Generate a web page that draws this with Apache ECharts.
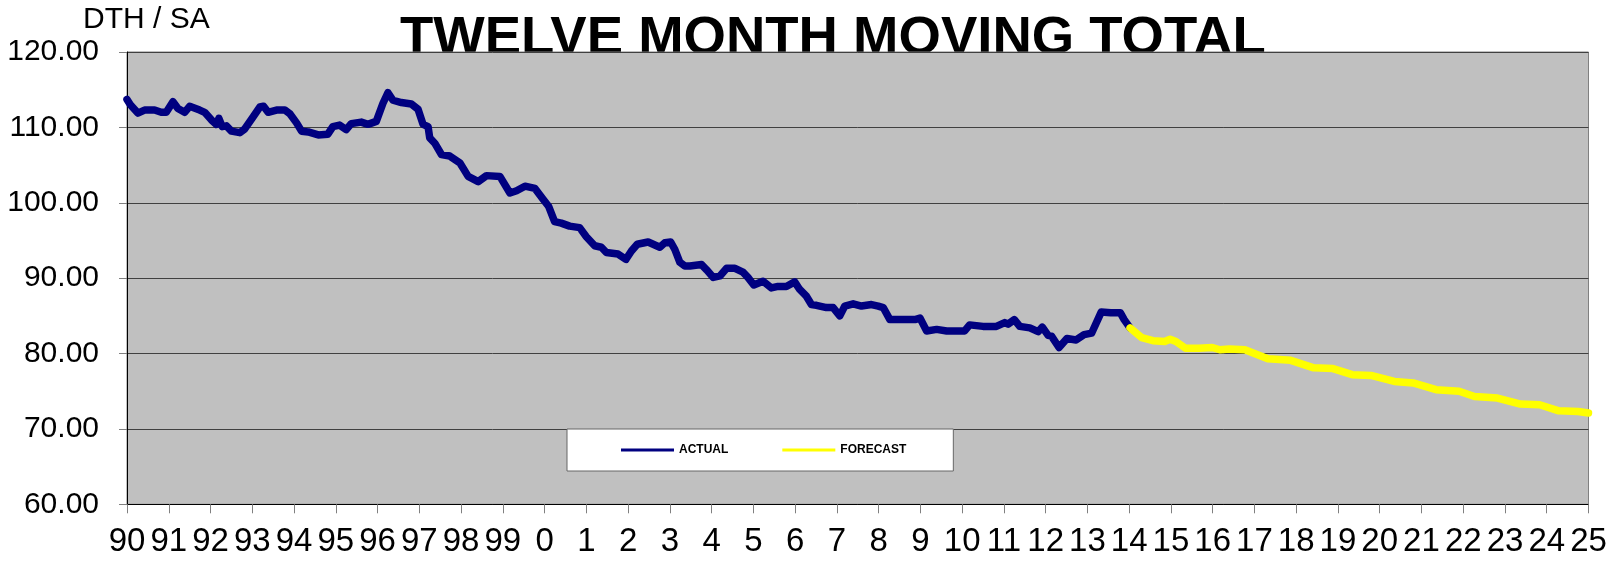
<!DOCTYPE html>
<html>
<head>
<meta charset="utf-8"/>
<title>Twelve Month Moving Total</title>
<script src="https://cdn.jsdelivr.net/npm/echarts@6/dist/echarts.min.js"></script>
</head>
<body style="margin:0;background:#fff;">
<div id="main" style="width:1610px;height:562px;"></div>
<script type="text/javascript">
// actual twelve month moving total (year as decimal, value)
var actualYears = [1990.00, 1990.08, 1990.26, 1990.42, 1990.66, 1990.82, 1990.94, 1991.10, 1991.22, 1991.38,
    1991.50, 1991.74, 1991.86, 1992.02, 1992.14, 1992.20, 1992.28, 1992.38, 1992.50, 1992.70,
    1992.82, 1993.02, 1993.18, 1993.27, 1993.38, 1993.58, 1993.78, 1993.90, 1994.06, 1994.18,
    1994.34, 1994.58, 1994.81, 1994.93, 1995.09, 1995.25, 1995.37, 1995.61, 1995.77, 1995.97,
    1996.13, 1996.25, 1996.37, 1996.57, 1996.81, 1996.97, 1997.09, 1997.21, 1997.25, 1997.37,
    1997.53, 1997.73, 1997.97, 1998.17, 1998.41, 1998.61, 1998.93, 1999.17, 1999.33, 1999.53,
    1999.77, 1999.96, 2000.10, 2000.24, 2000.40, 2000.60, 2000.84, 2001.00, 2001.20, 2001.36,
    2001.48, 2001.76, 2001.95, 2002.08, 2002.22, 2002.48, 2002.76, 2002.88, 2003.02, 2003.12,
    2003.24, 2003.36, 2003.48, 2003.76, 2003.88, 2004.04, 2004.20, 2004.36, 2004.56, 2004.75,
    2004.87, 2005.01, 2005.23, 2005.43, 2005.59, 2005.79, 2005.99, 2006.11, 2006.27, 2006.39,
    2006.51, 2006.75, 2006.91, 2007.07, 2007.19, 2007.39, 2007.59, 2007.83, 2007.99, 2008.11,
    2008.27, 2008.43, 2008.59, 2008.87, 2008.99, 2009.15, 2009.39, 2009.63, 2009.83, 2010.06,
    2010.18, 2010.50, 2010.82, 2011.02, 2011.10, 2011.25, 2011.38, 2011.62, 2011.82, 2011.92,
    2012.06, 2012.14, 2012.32, 2012.51, 2012.73, 2012.92, 2013.10, 2013.33, 2013.56, 2013.79,
    2013.88, 2014.02];
var actualValues = [113.7, 113.0, 111.9, 112.3, 112.3, 112.0, 112.0, 113.4, 112.5, 112.0,
    112.8, 112.3, 112.0, 111.0, 110.4, 111.2, 110.1, 110.2, 109.5, 109.3,
    109.8, 111.4, 112.7, 112.8, 112.0, 112.3, 112.3, 111.8, 110.6, 109.5,
    109.4, 109.0, 109.1, 110.1, 110.3, 109.7, 110.5, 110.7, 110.4, 110.8,
    113.2, 114.6, 113.6, 113.3, 113.1, 112.4, 110.4, 110.1, 108.6, 107.9,
    106.4, 106.2, 105.3, 103.5, 102.8, 103.6, 103.5, 101.3, 101.6, 102.2,
    101.9, 100.5, 99.5, 97.5, 97.3, 96.9, 96.7, 95.5, 94.3, 94.1,
    93.4, 93.2, 92.5, 93.6, 94.5, 94.8, 94.1, 94.7, 94.8, 93.8,
    92.1, 91.6, 91.6, 91.8, 91.1, 90.1, 90.3, 91.3, 91.3, 90.8,
    90.1, 89.1, 89.6, 88.7, 88.9, 88.9, 89.5, 88.5, 87.6, 86.5,
    86.4, 86.1, 86.1, 85.0, 86.3, 86.6, 86.3, 86.5, 86.3, 86.1,
    84.5, 84.5, 84.5, 84.5, 84.7, 83.0, 83.2, 83.0, 83.0, 83.0,
    83.8, 83.6, 83.6, 84.1, 83.9, 84.5, 83.6, 83.4, 82.9, 83.5,
    82.4, 82.3, 80.8, 82.0, 81.8, 82.5, 82.7, 85.5, 85.4, 85.4,
    84.5, 83.4];

// forecast
var forecastYears = [2014.02, 2014.30, 2014.57, 2014.85, 2014.98, 2015.12, 2015.35, 2015.67, 2015.99, 2016.17,
    2016.40, 2016.77, 2017.32, 2017.87, 2018.42, 2018.88, 2019.34, 2019.79, 2020.35, 2020.80,
    2021.35, 2021.90, 2022.27, 2022.82, 2023.37, 2023.83, 2024.29, 2024.75, 2025.00];
var forecastValues = [83.4, 82.1, 81.7, 81.6, 81.9, 81.6, 80.7, 80.7, 80.8, 80.5,
    80.6, 80.5, 79.3, 79.1, 78.1, 78.0, 77.2, 77.1, 76.3, 76.1,
    75.2, 75.0, 74.3, 74.1, 73.3, 73.2, 72.4, 72.3, 72.1];

var seriesNames = ['ACTUAL', 'FORECAST'];

function pairs(xs, ys) {
    var out = [];
    for (var i = 0; i < xs.length; i++) out.push([xs[i], ys[i]]);
    return out;
}

var myChart = echarts.init(document.getElementById('main'));
var option = {
    animation: false,
    backgroundColor: '#ffffff',
    title: {
        text: 'TWELVE MONTH MOVING TOTAL',
        left: 400,
        top: 11,
        padding: 0,
        z: -1,
        textStyle: {
            fontFamily: 'Liberation Sans, Arial, sans-serif',
            fontSize: 54.5,
            fontWeight: 'bold',
            color: '#000'
        }
    },
    legend: {
        left: 567,
        top: 429,
        orient: 'horizontal',
        itemWidth: 53,
        itemHeight: 3,
        itemGap: 54,
        icon: 'rect',
        padding: [14, 47, 14, 54],
        backgroundColor: '#ffffff',
        borderColor: '#666666',
        borderWidth: 1,
        textStyle: {
            fontFamily: 'Liberation Sans, Arial, sans-serif',
            fontSize: 12,
            fontWeight: 'bold',
            color: '#000',
            lineHeight: 14
        },
        data: seriesNames
    },
    grid: {
        left: 127,
        right: 21.5,
        top: 52,
        bottom: 57.7,
        show: true,
        backgroundColor: '#C0C0C0',
        borderColor: '#808080',
        borderWidth: 1
    },
    xAxis: {
        type: 'value',
        min: 1990,
        max: 2025,
        interval: 1,
        axisLine: { lineStyle: { color: '#000', width: 1 } },
        axisTick: { show: true, length: 9, lineStyle: { color: '#808080' } },
        splitLine: { show: false },
        axisLabel: {
            margin: 21,
            showMinLabel: true,
            showMaxLabel: true,
            hideOverlap: false,
            fontFamily: 'Liberation Sans, Arial, sans-serif',
            fontSize: 33,
            color: '#000',
            formatter: function (v) { return String(Math.round(v) % 100); }
        }
    },
    yAxis: {
        type: 'value',
        min: 60,
        max: 120,
        interval: 10,
        name: 'DTH / SA',
        nameLocation: 'end',
        nameGap: 32,
        nameTextStyle: {
            fontFamily: 'Liberation Sans, Arial, sans-serif',
            fontSize: 30,
            color: '#000',
            align: 'left',
            verticalAlign: 'middle',
            padding: [0, 0, 0, -44]
        },
        axisLine: { show: true, lineStyle: { color: '#000', width: 1 } },
        axisTick: { show: true, length: 8, lineStyle: { color: '#808080' } },
        splitLine: { show: true, lineStyle: { color: '#404040', width: 1 } },
        axisLabel: {
            margin: 28,
            fontFamily: 'Liberation Sans, Arial, sans-serif',
            fontSize: 30,
            color: '#000',
            formatter: function (v) { return v.toFixed(2); }
        }
    },
    series: [{
        name: seriesNames[0],
        type: 'line',
        data: pairs(actualYears, actualValues),
        showSymbol: false,
        symbol: 'none',
        color: '#000080',
        lineStyle: { color: '#000080', width: 7.5, cap: 'round', join: 'round' },
        z: 3
    }, {
        name: seriesNames[1],
        type: 'line',
        data: pairs(forecastYears, forecastValues),
        showSymbol: false,
        symbol: 'none',
        color: '#FFFF00',
        lineStyle: { color: '#FFFF00', width: 7.5, cap: 'round', join: 'round' },
        z: 4
    }]
};
myChart.setOption(option);
</script>
</body>
</html>
